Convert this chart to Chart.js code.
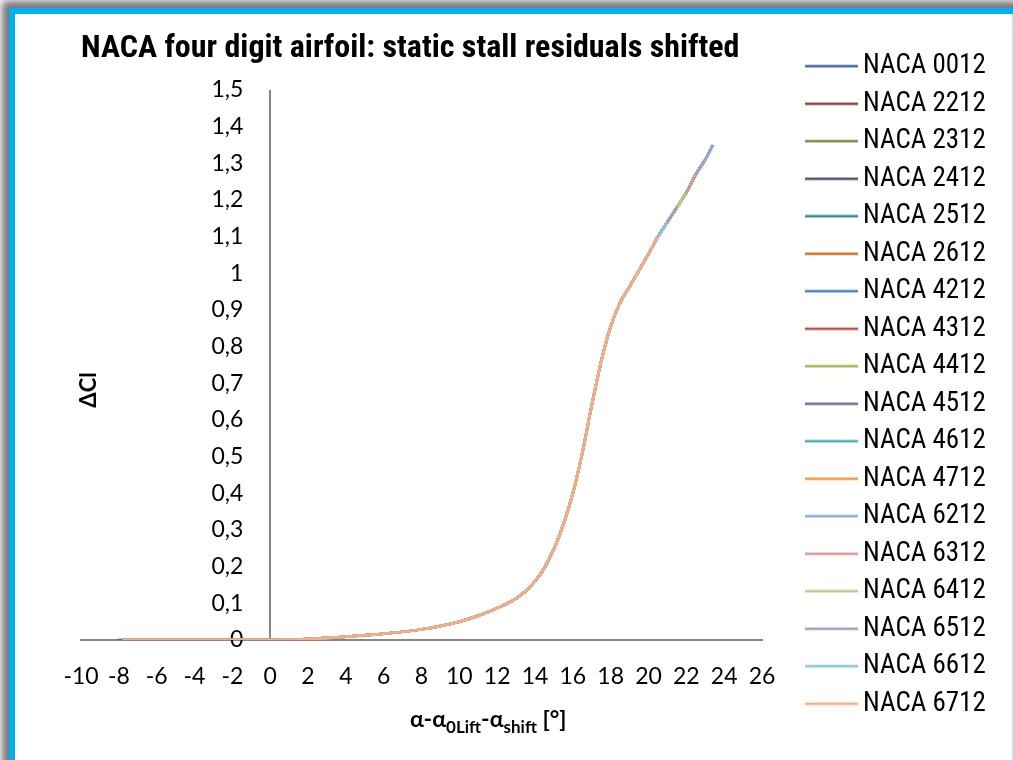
<!DOCTYPE html>
<html>
<head>
<meta charset="utf-8">
<script src="https://cdn.jsdelivr.net/npm/chart.js@4/dist/chart.umd.min.js"></script>
<style>
  body { margin: 0; width: 1013px; height: 760px; overflow: hidden; position: relative; background: #fff; }
  #frame { position: absolute; left: 9px; top: 8px; width: 1100px; height: 900px;
           border-left: 6px solid #00b0f0; border-top: 6px solid #00b0f0;
           box-shadow: -4px -4px 8px 3px rgba(0,0,0,0.55); background: #fff; }
  #edge { position: absolute; left: 1012px; top: 14px; width: 1px; height: 746px; background: #bfe9f9; }
  #chart { position: absolute; left: 15px; top: 14px; }
</style>
</head>
<body>
<div id="frame"></div>
<div id="edge"></div>
<canvas id="chart" width="998" height="746"></canvas>
<script>
let names = [
    'NACA 0012', 'NACA 2212', 'NACA 2312', 'NACA 2412', 'NACA 2512', 'NACA 2612',
    'NACA 4212', 'NACA 4312', 'NACA 4412', 'NACA 4512', 'NACA 4612', 'NACA 4712',
    'NACA 6212', 'NACA 6312', 'NACA 6412', 'NACA 6512', 'NACA 6612', 'NACA 6712',
];

// angle of attack, shifted [deg] and residual dCl
let curveX = [-8.1, -7.8, -6, -4, -2, 0, 2, 4, 6, 8, 10, 11, 12, 12.5, 13, 13.5, 14, 14.5, 15, 15.5, 16, 16.5,
              17, 17.5, 18, 18.5, 19, 19.5, 20, 20.5, 21, 21.5, 22, 22.5, 23, 23.4];
let curveY = [0, 0, 0, 0, 0, 0, 0.003, 0.009, 0.017, 0.029, 0.05, 0.066, 0.087, 0.099, 0.113, 0.133, 0.16, 0.197, 0.248, 0.315, 0.4, 0.51,
              0.64, 0.76, 0.855, 0.92, 0.964, 1.008, 1.053, 1.10, 1.14, 1.18, 1.22, 1.27, 1.31, 1.35];

// where each airfoil's curve starts and stops
let firstX = [-8.1, -7.8, -7.8, -7.8, -7.8, -7.8, -7.8, -7.8, -7.8, -7.8, -7.8, -7.8, -7.8, -7.8, -7.8, -7.8, -7.8, -7.8];
let lastX = [23.4, 23, 22.5, 22.5, 22, 21.5, 23.4, 23, 22.5, 22, 21.5, 21, 23.4, 22.5, 22, 21.5, 21, 20.5];

let yTickLabels = ['0', '0,1', '0,2', '0,3', '0,4', '0,5', '0,6', '0,7', '0,8', '0,9', '1', '1,1', '1,2', '1,3', '1,4', '1,5'];

let chartTitle = 'NACA four digit airfoil: static stall residuals shifted';
let yTitle = 'ΔCl';
let xTitleParts = [['α-α', false], ['0Lift', true], ['-α', false], ['shift', true], [' [°]', false]];

let colors = [
    '#3f6aa1', '#9b403d', '#768f3f', '#614a7e', '#35879c', '#d0702b',
    '#4f81bd', '#c0504d', '#9bbb59', '#8064a2', '#4bacc6', '#f79646',
    '#8eaadb', '#d99694', '#b5cf86', '#ab9ac7', '#8ac6d8', '#fbac7d',
];

const NARROW = "'Liberation Sans Narrow', 'Roboto Condensed', 'DejaVu Sans Condensed', sans-serif";
const TICKFONT = "Lato, 'Open Sans', sans-serif";
const AXIS = '#868686';

// legend sample: the line sits in the right part of the image so it ends just before the text
let legendLine = (color) => {
    let c = document.createElement('canvas');
    c.width = 94;
    c.height = 4;
    let g = c.getContext('2d');
    g.fillStyle = color;
    g.fillRect(41, 0.75, 53, 2.5);
    return c;
}

let datasets = names.map((name, i) => ({
    label: name,
    data: curveX.map((x, k) => ({x: x, y: curveY[k]}))
                .filter(p => p.x >= firstX[i] && p.x <= lastX[i]),
    borderColor: colors[i],
    backgroundColor: colors[i],
    borderWidth: 2.5,
    pointRadius: 0,
    pointHoverRadius: 0,
    pointStyle: legendLine(colors[i]),
    cubicInterpolationMode: 'monotone',
    order: names.length - 1 - i, // later series on top, like the original
}));

let axisTitles = {
    id: 'axisTitles',
    afterDraw(chart) {
        let ctx = chart.ctx;
        let a = chart.chartArea;
        ctx.save();
        ctx.fillStyle = '#000';
        ctx.textBaseline = 'alphabetic';

        // y title, rotated
        ctx.save();
        ctx.translate(a.left + 8, (a.top + a.bottom) / 2 + 25);
        ctx.rotate(-Math.PI / 2);
        ctx.font = 'bold 22px ' + TICKFONT;
        ctx.textAlign = 'center';
        ctx.textBaseline = 'middle';
        ctx.fillText(yTitle, 0, 0);
        ctx.restore();

        // x title with subscripts
        let mainFont = 'bold 23px ' + TICKFONT;
        let subFont = 'bold 17px ' + TICKFONT;
        let widths = xTitleParts.map(p => {
            ctx.font = p[1] ? subFont : mainFont;
            return ctx.measureText(p[0]).width;
        });
        let total = widths.reduce((s, w) => s + w, 0);
        let x = a.left + (a.right - a.left) * 0.598 - total / 2;
        let base = a.bottom + 87;
        ctx.textAlign = 'left';
        xTitleParts.forEach((p, k) => {
            ctx.font = p[1] ? subFont : mainFont;
            ctx.fillText(p[0], x, p[1] ? base + 6 : base);
            x += widths[k];
        });
        ctx.restore();
    }
};

let config = {
    type: 'line',
    data: {datasets: datasets},
    options: {
        responsive: false,
        animation: false,
        layout: {padding: {top: 0, bottom: 4, left: 0, right: 16}},
        plugins: {
            title: {
                display: true,
                text: chartTitle,
                align: 'start',
                fullSize: false,
                color: '#000',
                font: {family: NARROW, size: 32, weight: 'bold'},
                padding: {top: 16, bottom: 21.6},
            },
            legend: {
                position: 'right',
                labels: {
                    usePointStyle: true,
                    pointStyleWidth: 77,
                    padding: 10.5,
                    color: '#000',
                    font: {family: NARROW, size: 27},
                    sort: (a, b) => a.datasetIndex - b.datasetIndex,
                },
            },
            tooltip: {enabled: false},
        },
        scales: {
            x: {
                type: 'linear',
                min: -10,
                max: 26,
                ticks: {stepSize: 2, color: '#000', font: {family: TICKFONT, size: 23}, padding: 23, maxRotation: 0, autoSkip: false},
                // only the grid line at 0 is shown: it is the vertical axis
                grid: {
                    display: true,
                    drawTicks: false,
                    lineWidth: 2,
                    color: (c) => (c.tick && c.tick.value === 0 ? AXIS : 'rgba(0,0,0,0)'),
                },
                border: {display: true, color: AXIS, width: 2},
                afterFit: (s) => {
                    s.paddingLeft = 66;
                    s.paddingRight = 251;
                    s.height = 116;
                },
            },
            // carries the tick labels, placed a little left of the axis line
            y: {
                type: 'linear',
                min: 0,
                max: 1.5,
                position: {x: -1.42},
                ticks: {
                    stepSize: 0.1, color: '#000', font: {family: TICKFONT, size: 23},
                    callback: (v) => yTickLabels[Math.round(v * 10)],
                },
                grid: {display: false, drawTicks: false},
                border: {display: false},
            },
        },
    },
    plugins: [axisTitles],
};

let myChart = new Chart(document.getElementById('chart'), config);
</script>
</body>
</html>
